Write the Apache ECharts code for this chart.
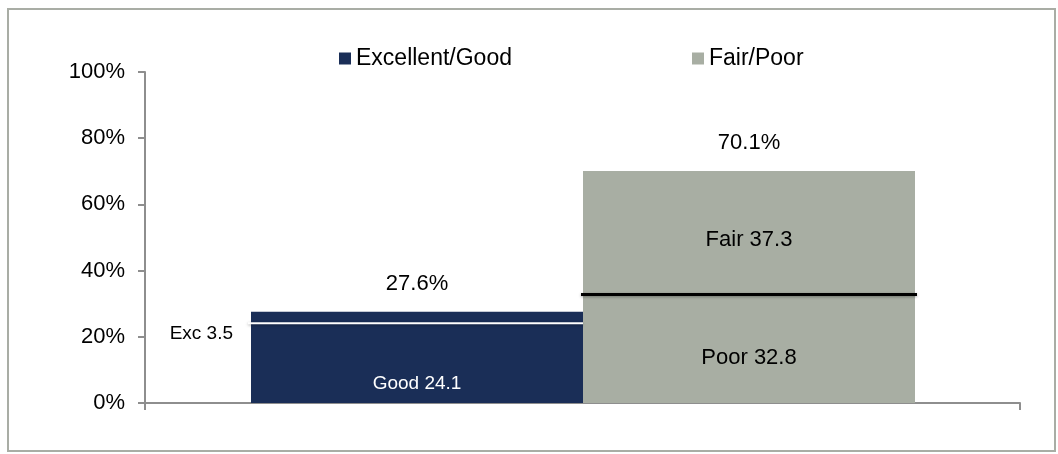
<!DOCTYPE html>
<html lang="en">
<head>
    <meta charset="UTF-8">
    <title>Health status</title>
    <script src="https://cdn.jsdelivr.net/npm/echarts@6/dist/echarts.min.js"></script>
    <style>
        html, body { margin: 0; padding: 0; background: #fff; }
        #main { width: 1058px; height: 454px; }
    </style>
</head>
<body>
    <div id="main"></div>
    <script type="text/javascript">
    // data
    var categories = ['Excellent/Good', 'Fair/Poor'];
    var lowerNames = ['Good', 'Poor'];
    var lowerValues = [24.1, 32.8];
    var upperNames = ['Exc', 'Fair'];
    var upperValues = [3.5, 37.3];
    var totals = [27.6, 70.1];
    var yTicks = [0, 20, 40, 60, 80, 100];

    var navy = '#1a2e57';
    var sage = '#a8aea3';
    var axisGrey = '#8e8e8e';
    var font = 'Liberation Sans, Arial, sans-serif';

    var myChart = echarts.init(document.getElementById('main'));

    // one value per category, '-' elsewhere, so each bar gets its own colour
    function only(i, v) {
        return categories.map(function (c, j) { return j === i ? v : '-'; });
    }

    var dividerData = categories.map(function (c, i) {
        return [i, lowerValues[i], totals[i]];
    });
    var dividerColors = ['#ffffff', '#000000'];
    var dividerOverhang = [[3, 0], [2, 2]];   // px past the bar edge, left / right

    var option = {
        animation: false,
        textStyle: { fontFamily: font },
        graphic: [{
            type: 'rect',
            shape: { x: 8, y: 9, width: 1047, height: 442 },
            style: { fill: 'none', stroke: '#a9ada5', lineWidth: 2 }
        }],
        legend: {
            data: categories,
            left: 334,
            top: 42,
            icon: 'rect',
            itemWidth: 12,
            itemHeight: 12,
            itemGap: 180,
            textStyle: { fontSize: 23, color: '#000', fontFamily: font }
        },
        grid: [
            { left: 145, right: 38, top: 72, bottom: 51 },
            { left: 251, right: 143, top: 72, bottom: 51 }
        ],
        xAxis: [{
            gridIndex: 0,
            type: 'category',
            data: [''],
            axisLine: { lineStyle: { color: axisGrey, width: 2 } },
            axisTick: { show: true, length: 7, lineStyle: { color: axisGrey, width: 2 } },
            axisLabel: { show: false }
        }, {
            gridIndex: 1,
            type: 'category',
            data: categories,
            show: false
        }],
        yAxis: [{
            gridIndex: 0,
            type: 'value',
            min: yTicks[0],
            max: yTicks[yTicks.length - 1],
            interval: 20,
            axisLine: { show: true, lineStyle: { color: axisGrey, width: 2 } },
            axisTick: { show: true, length: 7, lineStyle: { color: axisGrey, width: 2 } },
            splitLine: { show: false },
            axisLabel: { formatter: '{value}%', fontSize: 22, color: '#000', margin: 20, fontFamily: font }
        }, {
            gridIndex: 1,
            type: 'value',
            min: 0,
            max: 100,
            show: false
        }],
        series: [{
            name: categories[0],
            type: 'bar',
            xAxisIndex: 1, yAxisIndex: 1,
            stack: 'total',
            barWidth: '100%',
            data: only(0, lowerValues[0]),
            itemStyle: { color: navy },
            label: {
                show: true, position: 'insideBottom', distance: 10,
                formatter: lowerNames[0] + ' {c}',
                color: '#fff', fontSize: 19, fontFamily: font
            }
        }, {
            name: categories[0],
            type: 'bar',
            xAxisIndex: 1, yAxisIndex: 1,
            stack: 'total',
            data: only(0, upperValues[0]),
            itemStyle: { color: navy },
            label: {
                show: true, position: 'left', distance: 18, offset: [0, 16],
                formatter: upperNames[0] + ' {c}',
                color: '#000', fontSize: 19, fontFamily: font
            }
        }, {
            name: categories[1],
            type: 'bar',
            xAxisIndex: 1, yAxisIndex: 1,
            stack: 'total',
            data: only(1, lowerValues[1]),
            itemStyle: { color: sage },
            label: {
                show: true, position: 'inside', offset: [0, 9],
                formatter: lowerNames[1] + ' {c}',
                color: '#000', fontSize: 22, fontFamily: font
            }
        }, {
            name: categories[1],
            type: 'bar',
            xAxisIndex: 1, yAxisIndex: 1,
            stack: 'total',
            data: only(1, upperValues[1]),
            itemStyle: { color: sage },
            label: {
                show: true, position: 'inside', offset: [0, 7],
                formatter: upperNames[1] + ' {c}',
                color: '#000', fontSize: 22, fontFamily: font
            }
        }, {
            // divider lines between segments and the totals above each bar
            type: 'custom',
            xAxisIndex: 1, yAxisIndex: 1,
            silent: true,
            z: 10,
            data: dividerData,
            renderItem: function (params, api) {
                var i = api.value(0);
                var p = api.coord([i, api.value(1)]);
                var top = api.coord([i, api.value(2)]);
                var w = api.size([1, 0])[0];
                var oh = dividerOverhang[i];
                return {
                    type: 'group',
                    children: [{
                        type: 'line',
                        shape: { x1: p[0] - w / 2 - oh[0], y1: p[1], x2: p[0] + w / 2 + oh[1], y2: p[1] },
                        style: {
                            stroke: dividerColors[i], lineWidth: i === 0 ? 2 : 3,
                            shadowBlur: 3, shadowColor: 'rgba(0,0,0,0.35)', shadowOffsetY: 1
                        }
                    }, {
                        type: 'text',
                        style: {
                            x: top[0], y: top[1] - 28,
                            text: api.value(2) + '%',
                            align: 'center', verticalAlign: 'middle',
                            fill: '#000', fontSize: 22, fontFamily: font
                        }
                    }]
                };
            }
        }]
    };

    myChart.setOption(option, true);
    </script>
</body>
</html>
